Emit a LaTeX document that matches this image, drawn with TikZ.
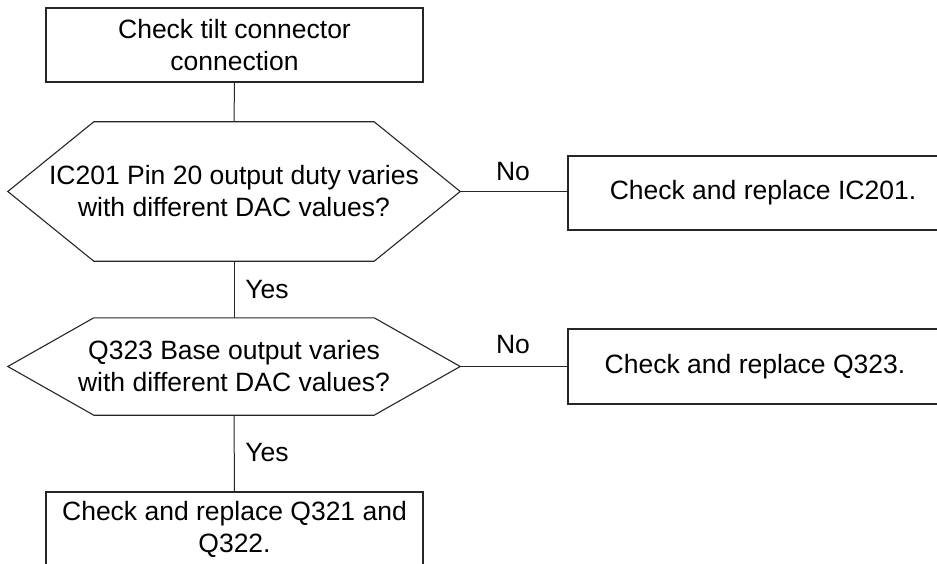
\documentclass[tikz,border=0pt]{standalone}
\usepackage{fontspec}
\setmainfont{Liberation Sans}
\begin{document}
\begin{tikzpicture}[x=1pt,y=-1pt,
  every node/.style={font=\fontsize{26.5}{32}\selectfont, inner sep=0pt, align=center},
  box/.style={draw=black!85, line width=1.2pt, minimum height=74pt},
  hexnode/.style={minimum width=452pt},
  hexline/.style={draw=black!85, line width=1.1pt},
  conn/.style={draw=black!85, line width=1pt}]
\useasboundingbox (0,0) rectangle (937,564);
\clip (0,0) rectangle (937,564);
% process boxes
\node[box, minimum width=377pt] (start) at (234.5,45) {Check tilt connector\\connection};
\node[box, minimum width=377pt] (final) at (234.5,529) {Check and replace Q321 and\\Q322.};
\node[box, minimum width=390pt] (r1) at (763,193) {Check and replace IC201.};
\node[box, minimum width=374pt, minimum height=75pt] (r2) at (755,366.5) {Check and replace Q323.};
% decisions
\node[hexnode, minimum height=139pt] (h1) at (234,191.5) {IC201 Pin 20 output duty varies\\with different DAC values?};
\node[hexnode, minimum height=97pt] (h2) at (234,366.5) {Q323 Base output varies\\with different DAC values?};
\foreach \h in {h1,h2}{
  \draw[hexline] (\h.west) -- ([xshift=86pt]\h.north west) -- ([xshift=-86pt]\h.north east)
    -- (\h.east) -- ([xshift=-86pt]\h.south east) -- ([xshift=86pt]\h.south west) -- cycle;
}
% connectors
\draw[conn] (start.south) -- (h1.north);
\draw[conn] (h1.south) -- (h2.north);
\draw[conn] (h2.south) -- (final.north);
\draw[conn] (h1.east) -- (h1.east -| r1.west);
\draw[conn] (h2.east) -- (h2.east -| r2.west);
% labels
\node (yes1) at (267,290) {Yes};
\node (yes2) at (267,453) {Yes};
\node (no1) at (513,172) {No};
\node (no2) at (513,345) {No};
\end{tikzpicture}
\end{document}
